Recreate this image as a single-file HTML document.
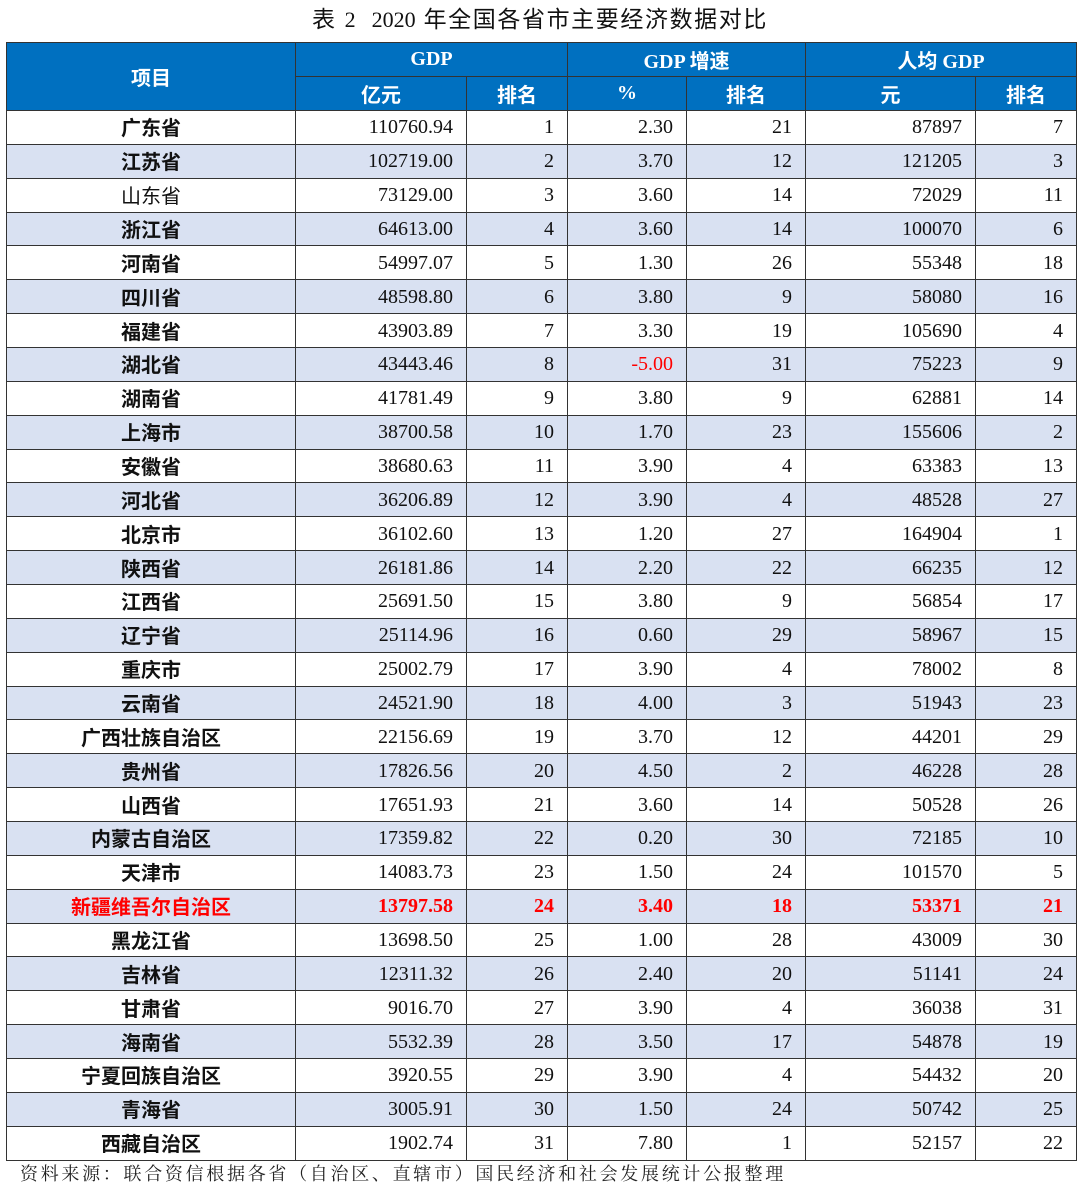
<!DOCTYPE html>
<html><head><meta charset="utf-8">
<style>
html,body{margin:0;padding:0;background:#fff;}
body{width:1080px;height:1193px;position:relative;overflow:hidden;}
.title{position:absolute;left:0;top:4px;width:1080px;text-align:center;font-family:"Liberation Sans","Noto Sans CJK SC",sans-serif;font-size:23px;line-height:30px;color:#111;letter-spacing:1.6px;}
.title .n{font-family:"Liberation Serif",serif;font-size:22px;letter-spacing:0;}
table{position:absolute;left:6px;top:42px;border-collapse:collapse;table-layout:fixed;width:1070px;}
td,th{border:1px solid #333;padding:0;margin:0;}
th{background:#0070C0;color:#fff;font-family:"Liberation Serif","Noto Sans CJK SC",serif;font-weight:700;font-size:20px;height:33px;text-align:center;}
th .c{font-family:"Noto Sans CJK SC",sans-serif;}
td{height:32.87px;font-family:"Liberation Serif",serif;font-size:20px;color:#111;text-align:right;padding-right:13px;line-height:22px;}
td:first-child{text-align:center;padding-right:0;font-family:"Noto Sans CJK SC",sans-serif;font-weight:700;}
tr.b td{background:#D9E1F2;}
tr.r td{color:#f00;font-weight:700;}
.red{color:#f00;}
.foot{position:absolute;left:20px;top:1160px;font-family:"Noto Serif CJK SC",serif;font-size:18px;line-height:26px;letter-spacing:2.7px;color:#222;white-space:nowrap;}
</style></head><body>
<div class="title">表 <span class="n">2</span>&nbsp; <span class="n">2020</span> 年全国各省市主要经济数据对比</div>
<table>
<colgroup><col style="width:289px"><col style="width:171px"><col style="width:101px"><col style="width:119px"><col style="width:119px"><col style="width:170px"><col style="width:101px"></colgroup>
<tr><th rowspan="2"><span class="c">项目</span></th><th colspan="2">GDP</th><th colspan="2">GDP <span class="c">增速</span></th><th colspan="2"><span class="c">人均</span> GDP</th></tr>
<tr><th><span class="c">亿元</span></th><th><span class="c">排名</span></th><th>%</th><th><span class="c">排名</span></th><th><span class="c">元</span></th><th><span class="c">排名</span></th></tr>
<tr><td>广东省</td><td>110760.94</td><td>1</td><td>2.30</td><td>21</td><td>87897</td><td>7</td></tr>
<tr class="b"><td>江苏省</td><td>102719.00</td><td>2</td><td>3.70</td><td>12</td><td>121205</td><td>3</td></tr>
<tr><td style="font-weight:400">山东省</td><td>73129.00</td><td>3</td><td>3.60</td><td>14</td><td>72029</td><td>11</td></tr>
<tr class="b"><td>浙江省</td><td>64613.00</td><td>4</td><td>3.60</td><td>14</td><td>100070</td><td>6</td></tr>
<tr><td>河南省</td><td>54997.07</td><td>5</td><td>1.30</td><td>26</td><td>55348</td><td>18</td></tr>
<tr class="b"><td>四川省</td><td>48598.80</td><td>6</td><td>3.80</td><td>9</td><td>58080</td><td>16</td></tr>
<tr><td>福建省</td><td>43903.89</td><td>7</td><td>3.30</td><td>19</td><td>105690</td><td>4</td></tr>
<tr class="b"><td>湖北省</td><td>43443.46</td><td>8</td><td class="red">-5.00</td><td>31</td><td>75223</td><td>9</td></tr>
<tr><td>湖南省</td><td>41781.49</td><td>9</td><td>3.80</td><td>9</td><td>62881</td><td>14</td></tr>
<tr class="b"><td>上海市</td><td>38700.58</td><td>10</td><td>1.70</td><td>23</td><td>155606</td><td>2</td></tr>
<tr><td>安徽省</td><td>38680.63</td><td>11</td><td>3.90</td><td>4</td><td>63383</td><td>13</td></tr>
<tr class="b"><td>河北省</td><td>36206.89</td><td>12</td><td>3.90</td><td>4</td><td>48528</td><td>27</td></tr>
<tr><td>北京市</td><td>36102.60</td><td>13</td><td>1.20</td><td>27</td><td>164904</td><td>1</td></tr>
<tr class="b"><td>陕西省</td><td>26181.86</td><td>14</td><td>2.20</td><td>22</td><td>66235</td><td>12</td></tr>
<tr><td>江西省</td><td>25691.50</td><td>15</td><td>3.80</td><td>9</td><td>56854</td><td>17</td></tr>
<tr class="b"><td>辽宁省</td><td>25114.96</td><td>16</td><td>0.60</td><td>29</td><td>58967</td><td>15</td></tr>
<tr><td>重庆市</td><td>25002.79</td><td>17</td><td>3.90</td><td>4</td><td>78002</td><td>8</td></tr>
<tr class="b"><td>云南省</td><td>24521.90</td><td>18</td><td>4.00</td><td>3</td><td>51943</td><td>23</td></tr>
<tr><td>广西壮族自治区</td><td>22156.69</td><td>19</td><td>3.70</td><td>12</td><td>44201</td><td>29</td></tr>
<tr class="b"><td>贵州省</td><td>17826.56</td><td>20</td><td>4.50</td><td>2</td><td>46228</td><td>28</td></tr>
<tr><td>山西省</td><td>17651.93</td><td>21</td><td>3.60</td><td>14</td><td>50528</td><td>26</td></tr>
<tr class="b"><td>内蒙古自治区</td><td>17359.82</td><td>22</td><td>0.20</td><td>30</td><td>72185</td><td>10</td></tr>
<tr><td>天津市</td><td>14083.73</td><td>23</td><td>1.50</td><td>24</td><td>101570</td><td>5</td></tr>
<tr class="b r"><td>新疆维吾尔自治区</td><td>13797.58</td><td>24</td><td>3.40</td><td>18</td><td>53371</td><td>21</td></tr>
<tr><td>黑龙江省</td><td>13698.50</td><td>25</td><td>1.00</td><td>28</td><td>43009</td><td>30</td></tr>
<tr class="b"><td>吉林省</td><td>12311.32</td><td>26</td><td>2.40</td><td>20</td><td>51141</td><td>24</td></tr>
<tr><td>甘肃省</td><td>9016.70</td><td>27</td><td>3.90</td><td>4</td><td>36038</td><td>31</td></tr>
<tr class="b"><td>海南省</td><td>5532.39</td><td>28</td><td>3.50</td><td>17</td><td>54878</td><td>19</td></tr>
<tr><td>宁夏回族自治区</td><td>3920.55</td><td>29</td><td>3.90</td><td>4</td><td>54432</td><td>20</td></tr>
<tr class="b"><td>青海省</td><td>3005.91</td><td>30</td><td>1.50</td><td>24</td><td>50742</td><td>25</td></tr>
<tr><td>西藏自治区</td><td>1902.74</td><td>31</td><td>7.80</td><td>1</td><td>52157</td><td>22</td></tr>
</table>
<div class="foot">资料来源：联合资信根据各省（自治区、直辖市）国民经济和社会发展统计公报整理</div>
</body></html>
